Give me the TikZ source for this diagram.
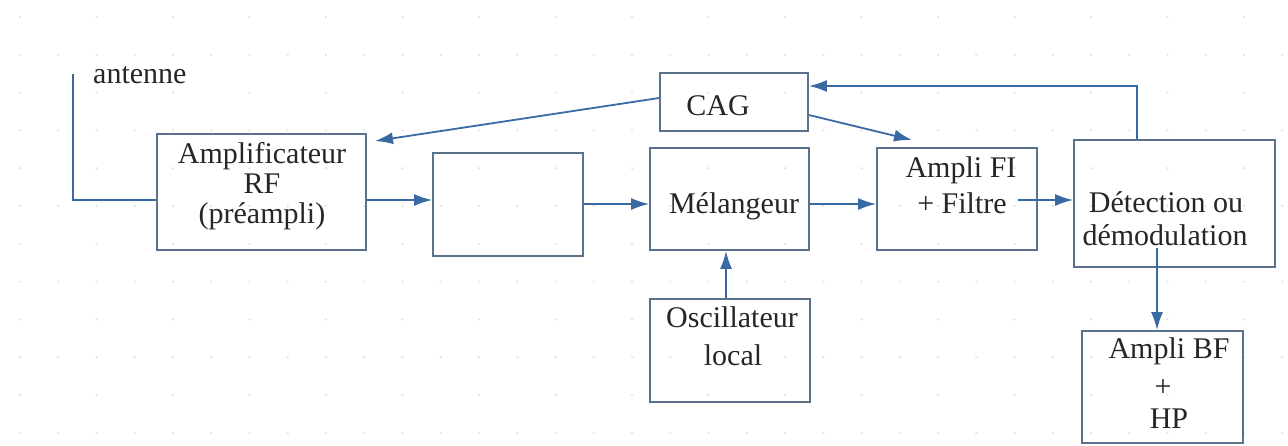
\documentclass[tikz,border=0pt]{standalone}
\usepackage{fontspec}
\setmainfont{Liberation Serif}
\usetikzlibrary{arrows.meta}
\definecolor{wire}{HTML}{3A6AA3}
\definecolor{frame}{HTML}{5A728C}
\definecolor{griddot}{HTML}{E3E3E3}
\tikzset{
  blockbox/.style={draw=frame, line width=1.8pt, minimum width=#1, inner sep=0pt},
  lbl/.style={anchor=base, inner sep=0pt, font=\fontsize{30}{30}\selectfont, text=black!85},
  sig/.style={draw=wire, line width=1.8pt},
  arr/.style={sig, -{Latex[length=18pt,width=12pt]}}
}
\begin{document}
\begin{tikzpicture}[x=1pt,y=-1pt]
\useasboundingbox (0,0) rectangle (1288,445);
% faint dotted background grid
\foreach \k in {0,...,11}{
  \pgfmathsetmacro{\yy}{17+37.8*\k}
  \ifodd\k
    \foreach \j in {0,...,33}{\fill[griddot] (20+38.25*\j,\yy) circle (1.3pt);}
  \else
    \foreach \j in {0,...,16}{\fill[griddot] (20+76.5*\j,\yy) circle (1.3pt);}
  \fi
}
% blocks
\node[blockbox=209pt, minimum height=116pt] (rf)    at (261.5,192) {};
\node[blockbox=150pt, minimum height=103pt] (blank) at (508,204.5) {};
\node[blockbox=148pt, minimum height=58pt]  (cag)   at (734,102) {};
\node[blockbox=159pt, minimum height=102pt] (mel)   at (729.5,199) {};
\node[blockbox=160pt, minimum height=102pt] (fi)    at (957,199) {};
\node[blockbox=201pt, minimum height=127pt] (det)   at (1174.5,203.5) {};
\node[blockbox=160pt, minimum height=103pt] (osc)   at (730,350.5) {};
\node[blockbox=161pt, minimum height=112pt] (bf)    at (1162.5,387) {};
% labels
\node[lbl, anchor=base west] (anttxt) at (93,83) {antenne};
\node[lbl] (rf1) at (262,163) {Amplificateur};
\node[lbl] (rf2) at (262,193) {RF};
\node[lbl] (rf3) at (262,223) {(préampli)};
\node[lbl] (cagtxt) at (718,115) {CAG};
\node[lbl] (meltxt) at (734,213) {Mélangeur};
\node[lbl] (fi1) at (961,177) {Ampli FI};
\node[lbl] (fi2) at (962,213) {+ Filtre};
\node[lbl] (det1) at (1166,212) {Détection ou};
\node[lbl] (det2) at (1165,245) {démodulation};
\node[lbl] (osc1) at (732,327) {Oscillateur};
\node[lbl] (osc2) at (733,365) {local};
\node[lbl] (bf1) at (1169,358) {Ampli BF};
\node[lbl] (bf2) at (1163,396) {+};
\node[lbl] (bf3) at (1169,428) {HP};
% connector end points
\coordinate (antTop) at (73,74);
\coordinate (fiOut) at (1018,200);
\coordinate (detOut) at (1157,248);
\coordinate (rfTip) at (375,141);
\coordinate (fiTip) at (912,140);
% antenna lead
\draw[sig] (antTop) |- (rf.west |- 0,200);
% main chain
\draw[arr] (rf.east |- 0,200) -- (blank.west |- 0,200);
\draw[arr] (blank.east |- 0,204) -- (mel.west |- 0,204);
\draw[arr] (mel.east |- 0,204) -- (fi.west |- 0,204);
\draw[arr] (fiOut) -- (det.west |- 0,200);
\draw[arr] (osc.north -| 726,0) -- (mel.south -| 726,0);
\draw[arr] (detOut) -- (bf.north -| 1157,0);
% AGC loop
\draw[arr] (det.north -| 1137,0) |- (cag.east |- 0,86);
\draw[arr] (cag.west |- 0,98) -- (rfTip);
\draw[arr] (cag.east |- 0,115) -- (fiTip);
\end{tikzpicture}
\end{document}
